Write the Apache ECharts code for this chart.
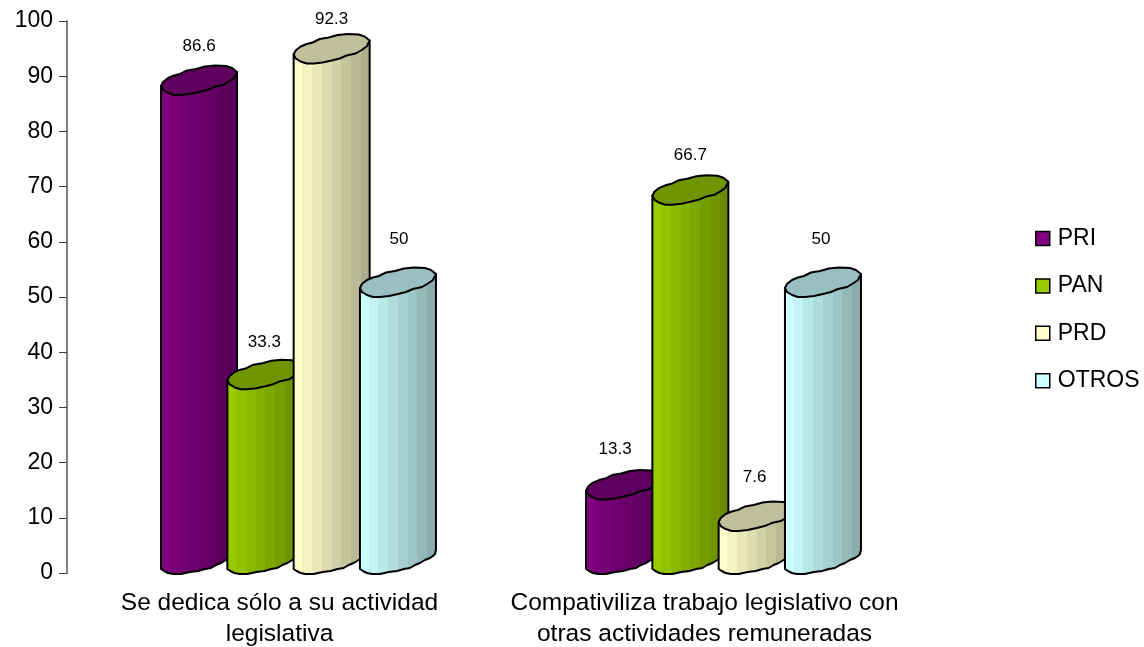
<!DOCTYPE html>
<html>
<head>
<meta charset="utf-8">
<title>Chart</title>
<script src="https://cdn.jsdelivr.net/npm/echarts@6/dist/echarts.min.js"></script>
<style>
html, body { margin: 0; padding: 0; background: #fff; }
#chart { width: 1144px; height: 647px; }
</style>
</head>
<body>
<div id="chart"></div>
<script>
const categories = ['Se dedica sólo a su actividad\nlegislativa', 'Compativiliza trabajo legislativo con\notras actividades remuneradas'];
const seriesNames = ['PRI', 'PAN', 'PRD', 'OTROS'];
const pri = [86.6, 13.3];
const pan = [33.3, 66.7];
const prd = [92.3, 7.6];
const otros = [50, 50];
const yTicks = [0, 100, 10];

const font = '"Liberation Sans", Arial, sans-serif';
const sideColors = ['#800080', '#99cc00', '#ffffcc', '#ccffff'];
const capColors = ['#5f005f', '#6f9400', '#bfbf9b', '#99bfc2'];

// wobbly outlines of the cylinder, px relative to bar centre and value / zero position
const capOutline = [[-38,-9],[-36,-13],[-31,-17],[-25,-19.5],[-19,-21],[-12,-24.5],[-3,-26],[6,-28.5],[16,-29.5],[27,-29],[33,-27],[38,-23],
	[35,-17],[30,-13.5],[24,-10],[15,-8],[8,-5],[0,-3],[-9,-1],[-18,0],[-25,0],[-31,-2],[-36,-5]];
const baseOutline = [[38,-23],[37,-19],[35,-17],[32,-15],[27,-13],[22,-10],[17,-8],[12,-5],[6,-4],[-1,-2],[-9,-1],[-18,1],[-26,1],[-31,0],[-35,-2],[-38,-4]];
// where the value text sits above each bar, one pair per series
const labelLift = [[49, 50], [47, 50], [44, 54], [58, 58]];
const labelShift = [[0, -9], [-1, 0], [0, -2], [1, -2]];

// vertical stripes, going darker to the right
function stripes(hex) {
	let r = parseInt(hex.slice(1, 3), 16), g = parseInt(hex.slice(3, 5), 16), b = parseInt(hex.slice(5, 7), 16);
	let stops = [], n = 8;
	for (let i = 0; i < n; i++) {
		let k = 1 - 0.32 * i / (n - 1);
		let c = 'rgb(' + Math.round(r * k) + ',' + Math.round(g * k) + ',' + Math.round(b * k) + ')';
		stops.push({ offset: i / n, color: c }, { offset: (i + 1) / n, color: c });
	}
	return { type: 'linear', x: 0, y: 0, x2: 1, y2: 0, colorStops: stops };
}

function makeSeries(name, idx, values) {
	return {
		name: name,
		type: 'custom',
		z: 2 + idx,
		itemStyle: { color: sideColors[idx] },
		data: values.map((v, i) => [i, v]),
		encode: { x: 0, y: 1 },
		renderItem: function (params, api) {
			let cat = api.value(0);
			let top = api.coord([cat, api.value(1)]);
			let zero = api.coord([cat, 0]);
			let band = api.size([1, 0])[0];
			let cx = top[0] + 19 + (idx - 1.5) * band * 0.156;
			let capPts = capOutline.map(p => [cx + p[0], top[1] + p[1]]);
			let sidePts = [[cx + 38, top[1] - 23]]
				.concat(baseOutline.map(p => [cx + p[0], zero[1] + p[1]]))
				.concat([[cx - 38, top[1] - 9]]);
			return {
				type: 'group',
				children: [
					{
						type: 'polygon',
						shape: { points: sidePts },
						style: { fill: stripes(sideColors[idx]), stroke: '#000', lineWidth: 2, lineJoin: 'round' }
					},
					{
						type: 'polygon',
						shape: { points: capPts },
						style: { fill: capColors[idx], stroke: '#000', lineWidth: 2, lineJoin: 'round' }
					},
					{
						type: 'text',
						z2: 50,
						style: {
							x: cx + labelShift[idx][cat],
							y: top[1] - labelLift[idx][cat],
							text: String(api.value(1)),
							fill: '#000',
							font: '17px ' + font,
							align: 'center',
							verticalAlign: 'middle'
						}
					}
				]
			};
		}
	};
}

let myChart = echarts.init(document.getElementById('chart'));

let option = {
	animation: false,
	backgroundColor: '#fff',
	grid: { left: 67, top: 21, width: 850, height: 552, outerBoundsMode: 'none' },
	legend: {
		data: seriesNames,
		orient: 'vertical',
		left: 1030,
		top: 222,
		itemWidth: 14,
		itemHeight: 14,
		itemGap: 24.4,
		icon: 'rect',
		itemStyle: { borderColor: '#000', borderWidth: 1.5 },
		textStyle: { color: '#000', fontFamily: font, fontSize: 23, padding: [0, 0, 0, 3] }
	},
	xAxis: {
		type: 'category',
		data: categories,
		axisLine: { show: false },
		axisTick: { show: false },
		axisLabel: { interval: 0, color: '#000', fontFamily: font, fontSize: 24.5, lineHeight: 31, margin: 15 }
	},
	yAxis: {
		type: 'value',
		min: yTicks[0],
		max: yTicks[1],
		interval: yTicks[2],
		splitLine: { show: false },
		axisLine: { show: true, lineStyle: { color: '#7f7f7f', width: 2 } },
		axisTick: { show: true, length: 8, lineStyle: { color: '#404040', width: 1 } },
		axisLabel: { color: '#000', fontFamily: font, fontSize: 23, margin: 14 }
	},
	series: [
		makeSeries(seriesNames[0], 0, pri),
		makeSeries(seriesNames[1], 1, pan),
		makeSeries(seriesNames[2], 2, prd),
		makeSeries(seriesNames[3], 3, otros)
	]
};

myChart.setOption(option);
</script>
</body>
</html>
